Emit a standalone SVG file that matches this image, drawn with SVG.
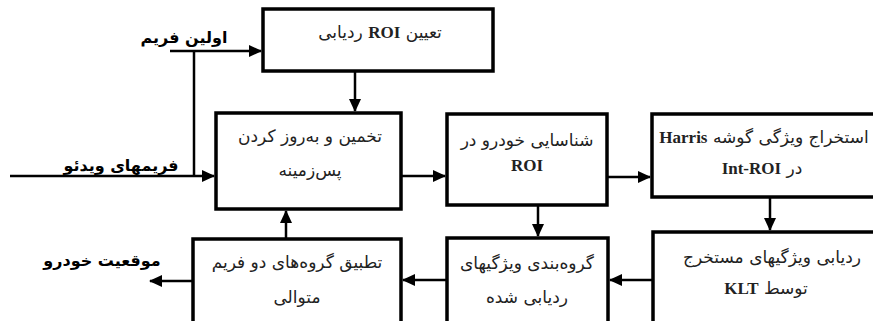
<svg xmlns="http://www.w3.org/2000/svg" width="873" height="321" viewBox="0 0 873 321">
<defs>
<style>
.box{fill:#fff;stroke:#000;stroke-width:3.5}
.t{font-family:"DejaVu Sans","Noto Sans",sans-serif;font-size:17px;fill:#222;text-anchor:middle;direction:rtl}
.lb{font-family:"DejaVu Sans","Noto Sans",sans-serif;font-size:16px;font-weight:bold;fill:#000;text-anchor:middle;direction:rtl}
.en{font-family:"Liberation Serif",serif;font-weight:bold;font-size:17px}
.c{fill:none;stroke:#000;stroke-width:2.5}
</style>
<marker id="ah" markerUnits="userSpaceOnUse" markerWidth="13" markerHeight="12" refX="12" refY="6" orient="auto">
<path d="M0,0 L13,6 L0,12 z" fill="#000"/>
</marker>
</defs>
<rect width="873" height="321" fill="#fff"/>
<g id="connectors">
<line class="c" x1="170" y1="51" x2="261" y2="51" marker-end="url(#ah)"/>
<line class="c" x1="194" y1="51" x2="194" y2="176"/>
<line class="c" x1="10" y1="176" x2="214" y2="176" marker-end="url(#ah)"/>
<line class="c" x1="355" y1="71" x2="355" y2="111" marker-end="url(#ah)"/>
<line class="c" x1="401" y1="176" x2="445" y2="176" marker-end="url(#ah)"/>
<line class="c" x1="607" y1="177" x2="650" y2="177" marker-end="url(#ah)"/>
<line class="c" x1="770" y1="197" x2="770" y2="230" marker-end="url(#ah)"/>
<line class="c" x1="538" y1="205" x2="538" y2="236" marker-end="url(#ah)"/>
<line class="c" x1="653" y1="280" x2="610" y2="280" marker-end="url(#ah)"/>
<line class="c" x1="447" y1="280" x2="403" y2="280" marker-end="url(#ah)"/>
<line class="c" x1="286" y1="239" x2="286" y2="211" marker-end="url(#ah)"/>
<line class="c" x1="193" y1="281" x2="150" y2="281" marker-end="url(#ah)"/>
</g>
<g id="label-first-frame"><text class="lb" x="184" y="43">اولین فریم</text></g>
<g id="label-video-frames"><text class="lb" x="121" y="171">فریمهای ویدئو</text></g>
<g id="label-vehicle-position"><text class="lb" x="102" y="266">موقعیت خودرو</text></g>
<g id="node-roi">
<rect class="box" x="263" y="9" width="230" height="62"/>
<text class="t" x="380" y="38">تعیین <tspan class="en">ROI</tspan> ردیابی</text>
</g>
<g id="node-background">
<rect class="box" x="216" y="113" width="185" height="96"/>
<text class="t" x="310" y="142">تخمین و به‌روز کردن</text>
<text class="t" x="310" y="176">پس‌زمینه</text>
</g>
<g id="node-detect">
<rect class="box" x="447" y="114" width="160" height="91"/>
<text class="t" x="527" y="146">شناسایی خودرو در</text>
<text class="t" x="527" y="171"><tspan class="en">ROI</tspan></text>
</g>
<g id="node-harris">
<rect class="box" x="652" y="114" width="240" height="83"/>
<text class="t" x="764" y="143">استخراج ویژگی گوشه <tspan class="en">Harris</tspan></text>
<text class="t" x="762" y="174">در <tspan class="en">Int-ROI</tspan></text>
</g>
<g id="node-klt">
<rect class="box" x="653" y="232" width="240" height="110"/>
<text class="t" x="772" y="263">ردیابی ویژگیهای مستخرج</text>
<text class="t" x="766" y="294">توسط <tspan class="en">KLT</tspan></text>
</g>
<g id="node-grouping">
<rect class="box" x="447" y="238" width="161" height="100"/>
<text class="t" x="527" y="269">گروه‌بندی ویژگیهای</text>
<text class="t" x="527" y="303">ردیابی شده</text>
</g>
<g id="node-matching">
<rect class="box" x="193" y="239" width="208" height="100"/>
<text class="t" x="297" y="268">تطبیق گروه‌های دو فریم</text>
<text class="t" x="297" y="303">متوالی</text>
</g>
</svg>
